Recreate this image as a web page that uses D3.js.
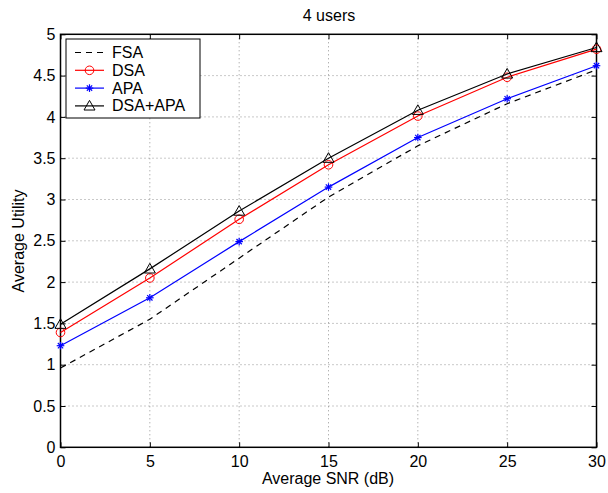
<!DOCTYPE html>
<html><head><meta charset="utf-8">
<script src="https://cdn.jsdelivr.net/npm/d3@7"></script>
<style>body{margin:0;background:#fff}svg{display:block;font-family:"Liberation Sans",Arial,sans-serif}</style>
</head><body><svg id="c" width="608" height="493"></svg>
<script>
const snr = [0, 5, 10, 15, 20, 25, 30];
const fsa = [0.96, 1.55, 2.29, 3.03, 3.65, 4.16, 4.57];
const dsa = [1.39, 2.05, 2.76, 3.42, 4.01, 4.48, 4.82];
const apa = [1.23, 1.81, 2.49, 3.15, 3.75, 4.22, 4.62];
const dsaApa = [1.49, 2.16, 2.86, 3.50, 4.08, 4.52, 4.84];
const xTicks = [0, 5, 10, 15, 20, 25, 30];
const yTicks = [0, 0.5, 1, 1.5, 2, 2.5, 3, 3.5, 4, 4.5, 5];
const seriesNames = ["FSA", "DSA", "APA", "DSA+APA"];

const FS = 16;
const svg = d3.select("#c");
const L = 60.5, R = 596.5, T = 34.3, B = 447.3;
const x = d3.scaleLinear().domain([0, 30]).range([L, R]);
const y = d3.scaleLinear().domain([0, 5]).range([B, T]);

// grid
const g = svg.append("g");
g.selectAll(".gx").data(xTicks.slice(1, -1)).enter().append("line")
  .attr("x1", d => x(d)).attr("x2", d => x(d)).attr("y1", T).attr("y2", B)
  .attr("stroke", "#777").attr("stroke-width", 0.8).attr("stroke-dasharray", "1,3");
g.selectAll(".gy").data(yTicks.slice(1, -1)).enter().append("line")
  .attr("y1", d => y(d)).attr("y2", d => y(d)).attr("x1", L).attr("x2", R)
  .attr("stroke", "#777").attr("stroke-width", 0.8).attr("stroke-dasharray", "1,3");

// axes with inward ticks
const xb = d3.axisBottom(x).tickValues(xTicks).tickSize(-5).tickPadding(8.5).tickFormat(d3.format("d"));
const xt = d3.axisTop(x).tickValues(xTicks).tickSize(-5).tickFormat("");
const yl = d3.axisLeft(y).tickValues(yTicks).tickSize(-5).tickPadding(5).tickFormat(d => String(d));
const yr = d3.axisRight(y).tickValues(yTicks).tickSize(-5).tickFormat("");
function styleAx(sel) {
  sel.select(".domain").remove();
  sel.selectAll("line").attr("stroke", "#000");
  sel.selectAll("text").attr("font-size", FS).attr("font-family", "Liberation Sans, Arial, sans-serif").attr("fill", "#000");
}
svg.append("g").attr("transform", `translate(0,${B})`).call(xb).call(styleAx);
svg.append("g").attr("transform", `translate(0,${T})`).call(xt).call(styleAx);
svg.append("g").attr("transform", `translate(${L},0)`).call(yl).call(styleAx);
svg.append("g").attr("transform", `translate(${R},0)`).call(yr).call(styleAx);
svg.append("rect").attr("x", L).attr("y", T).attr("width", R - L).attr("height", B - T)
  .attr("fill", "none").attr("stroke", "#000").attr("stroke-width", 1.5);

const line = d3.line().x((d, i) => x(snr[i])).y(d => y(d));
const series = [
  {name: seriesNames[0], data: fsa, color: "#000", dash: "6,5", marker: "none"},
  {name: seriesNames[1], data: dsa, color: "#ff0000", dash: null, marker: "circle"},
  {name: seriesNames[2], data: apa, color: "#0000ff", dash: null, marker: "star"},
  {name: seriesNames[3], data: dsaApa, color: "#000", dash: null, marker: "tri"}
];
function marker(sel, type, color, cx, cy) {
  if (type === "circle") {
    sel.append("circle").attr("cx", cx).attr("cy", cy).attr("r", 4.3)
      .attr("fill", "none").attr("stroke", color).attr("stroke-width", 1);
  } else if (type === "star") {
    const s = 3.8;
    const p = sel.append("g").attr("stroke", color).attr("stroke-width", 1.2);
    p.append("line").attr("x1", cx - s).attr("x2", cx + s).attr("y1", cy).attr("y2", cy);
    p.append("line").attr("x1", cx).attr("x2", cx).attr("y1", cy - s).attr("y2", cy + s);
    p.append("line").attr("x1", cx - s * 0.7).attr("x2", cx + s * 0.7).attr("y1", cy - s * 0.7).attr("y2", cy + s * 0.7);
    p.append("line").attr("x1", cx - s * 0.7).attr("x2", cx + s * 0.7).attr("y1", cy + s * 0.7).attr("y2", cy - s * 0.7);
  } else if (type === "tri") {
    const s = 5.5;
    sel.append("path").attr("d", `M${cx},${cy - s}L${cx + s},${cy + s * 0.75}L${cx - s},${cy + s * 0.75}Z`)
      .attr("fill", "none").attr("stroke", color).attr("stroke-width", 1);
  }
}
const clipG = svg.append("g");
series.forEach(s => {
  clipG.append("path").attr("d", line(s.data)).attr("fill", "none")
    .attr("stroke", s.color).attr("stroke-width", 1.2)
    .attr("stroke-dasharray", s.dash);
  if (s.marker !== "none") s.data.forEach((v, i) => marker(clipG, s.marker, s.color, x(snr[i]), y(v)));
});

// legend
const lg = svg.append("g");
lg.append("rect").attr("x", 66).attr("y", 39).attr("width", 134).attr("height", 79)
  .attr("fill", "#fff").attr("stroke", "#000").attr("stroke-width", 1);
series.forEach((s, i) => {
  const yy = 52.5 + i * 17.8;
  lg.append("line").attr("x1", 75).attr("x2", 104).attr("y1", yy).attr("y2", yy)
    .attr("stroke", s.color).attr("stroke-width", 1.2).attr("stroke-dasharray", s.dash);
  marker(lg, s.marker, s.color, 89.5, yy);
  lg.append("text").attr("x", 112).attr("y", yy + 5.5).attr("font-size", FS).text(s.name);
});

svg.append("text").attr("x", 329).attr("y", 21).attr("text-anchor", "middle").attr("font-size", FS).text("4 users");
svg.append("text").attr("x", 328).attr("y", 484).attr("text-anchor", "middle").attr("font-size", FS).text("Average SNR (dB)");
svg.append("text").attr("transform", "translate(23.5,241) rotate(-90)").attr("text-anchor", "middle").attr("font-size", FS).text("Average Utility");
</script></body></html>
